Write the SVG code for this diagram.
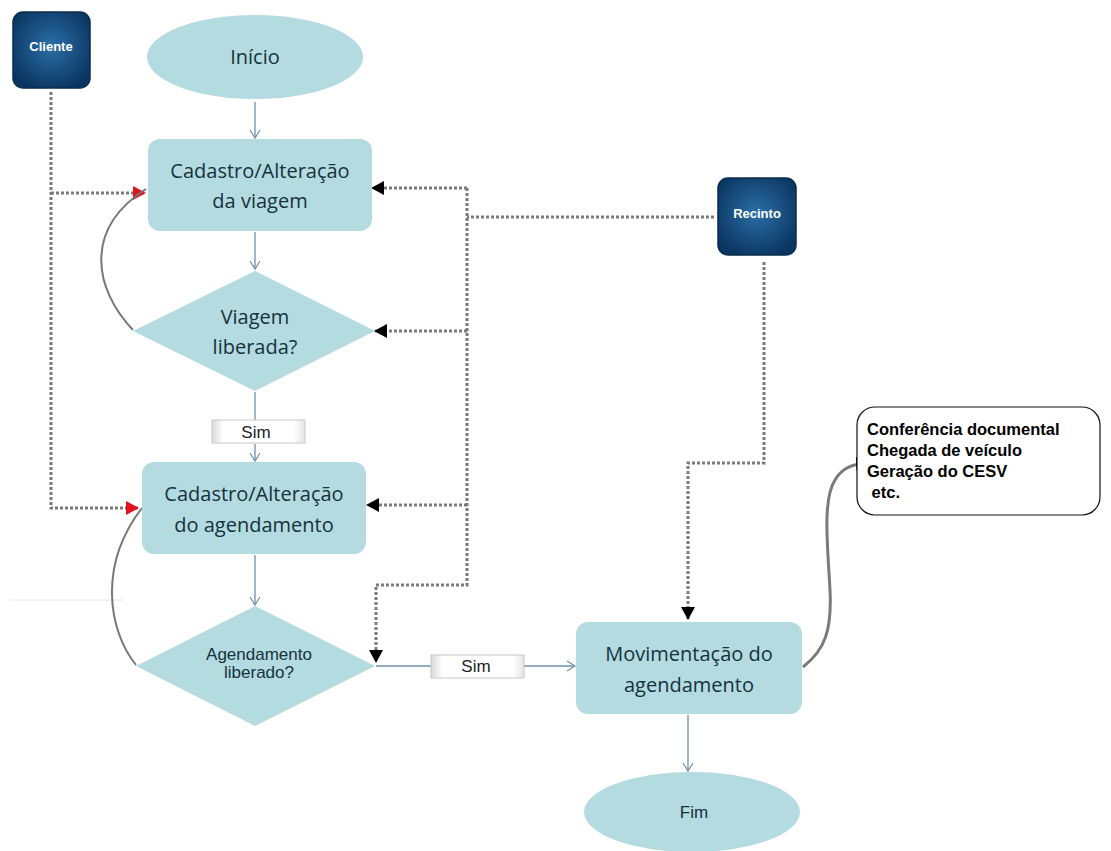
<svg xmlns="http://www.w3.org/2000/svg" width="1111" height="851" viewBox="0 0 1111 851">
<style>
.shape{fill:#b3dbe0}
.lbl{font-family:"Open Sans","DejaVu Sans",sans-serif;font-size:20px;fill:#16323d;text-anchor:middle}
.lbla{font-family:"Liberation Sans",Arial,sans-serif;font-size:17px;fill:#16323d;text-anchor:middle}
.actor{fill:url(#actg);stroke:#0a2d4f;stroke-width:1.5}
.atxt{font-family:"Liberation Sans",Arial,sans-serif;font-size:13px;font-weight:bold;fill:#ffffff;text-anchor:middle}
.flow{fill:none;stroke:#6f8fae;stroke-width:1.3}
.dot{fill:none;stroke:#7a7a7a;stroke-width:3;stroke-dasharray:3 2}
.loop{fill:none;stroke:#777;stroke-width:2}
.simbox{fill:url(#simg);stroke:#c8c8c8;stroke-width:1}
.simtxt{font-family:"Liberation Sans",Arial,sans-serif;font-size:17px;fill:#222;text-anchor:middle}
.note{font-family:"Liberation Sans",Arial,sans-serif;font-size:16.5px;font-weight:bold;fill:#000}
</style>
<defs>
<radialGradient id="actg" cx="50%" cy="45%" r="60%">
<stop offset="0" stop-color="#2a6fa6"/>
<stop offset="1" stop-color="#0b3561"/>
</radialGradient>
<linearGradient id="simg" x1="0" y1="0" x2="1" y2="0">
<stop offset="0" stop-color="#d9d9d9"/>
<stop offset="0.12" stop-color="#ffffff"/>
<stop offset="0.88" stop-color="#ffffff"/>
<stop offset="1" stop-color="#e4e4e4"/>
</linearGradient>
<marker id="open" markerWidth="12" markerHeight="12" refX="10" refY="6" orient="auto" markerUnits="userSpaceOnUse">
<path d="M2,1 L10,6 L2,11" fill="none" stroke="#6f8fae" stroke-width="1.2"/>
</marker>
<marker id="blk" markerWidth="14" markerHeight="14" refX="12" refY="7" orient="auto" markerUnits="userSpaceOnUse">
<path d="M0,0 L13,7 L0,14 Z" fill="#000"/>
</marker>
<marker id="red" markerWidth="14" markerHeight="14" refX="12" refY="7" orient="auto" markerUnits="userSpaceOnUse">
<path d="M0,0 L13,7 L0,14 Z" fill="#e0141e"/>
</marker>
</defs>
<rect width="1111" height="851" fill="#fff"/>
<line x1="10" y1="600" x2="124" y2="600" stroke="#e6e6e6" stroke-width="1"/>

<g id="connectors">
<line class="flow" x1="255" y1="102" x2="255" y2="138" marker-end="url(#open)"/>
<line class="flow" x1="255" y1="232" x2="255" y2="269" marker-end="url(#open)"/>
<line class="flow" x1="255" y1="392" x2="255" y2="420"/>
<line class="flow" x1="255" y1="444" x2="255" y2="461" marker-end="url(#open)"/>
<line class="flow" x1="255" y1="555" x2="255" y2="605" marker-end="url(#open)"/>
<line class="flow" x1="376" y1="666" x2="431" y2="666"/>
<line class="flow" x1="524" y1="666" x2="575" y2="666" marker-end="url(#open)"/>
<line class="flow" x1="688" y1="715" x2="688" y2="771" marker-end="url(#open)"/>
<path class="dot" d="M51,92 V508 H138" marker-end="url(#red)"/>
<path class="dot" d="M51,193 H145" marker-end="url(#red)"/>
<path class="dot" d="M714,217 H467"/>
<path class="dot" d="M467,188 V585 H376 V662" marker-end="url(#blk)"/>
<path class="dot" d="M467,188 H372" marker-end="url(#blk)"/>
<path class="dot" d="M467,331 H375" marker-end="url(#blk)"/>
<path class="dot" d="M467,505 H367" marker-end="url(#blk)"/>
<path class="dot" d="M764,262 V463 H688 V619" marker-end="url(#blk)"/>
<path class="loop" d="M133,330 C95,290 82,230 146,189"/>
<path class="loop" d="M136,665 C108,630 98,565 142,508"/>
<path d="M803,667 C825,650 832,630 830,590 C828,550 822,500 835,480 C842,468 852,464 868,463" fill="none" stroke="#7a7a7a" stroke-width="3" marker-end="url(#blk)"/>
</g>

<g id="cliente">
<rect class="actor" x="13" y="12" width="77" height="76" rx="10"/>
<text class="atxt" x="51" y="51">Cliente</text>
</g>
<g id="recinto">
<rect class="actor" x="718" y="178" width="78" height="77" rx="10"/>
<text class="atxt" x="757" y="218">Recinto</text>
</g>
<g id="inicio">
<ellipse class="shape" cx="255" cy="57" rx="108" ry="42"/>
<text class="lbl" x="255" y="64">Início</text>
</g>
<g id="cad-viagem">
<rect class="shape" x="148" y="139" width="224" height="92" rx="12"/>
<text class="lbl" x="260" y="178">Cadastro/Alteração</text>
<text class="lbl" x="260" y="208">da viagem</text>
</g>
<g id="viagem-liberada">
<polygon class="shape" points="255,271 375,331 255,391 133,331"/>
<text class="lbl" x="255" y="324">Viagem</text>
<text class="lbl" x="255" y="354">liberada?</text>
</g>
<g id="sim1">
<rect class="simbox" x="212" y="420" width="93" height="23"/>
<text class="simtxt" x="256" y="438">Sim</text>
</g>
<g id="cad-agendamento">
<rect class="shape" x="142" y="462" width="224" height="92" rx="12"/>
<text class="lbl" x="254" y="501">Cadastro/Alteração</text>
<text class="lbl" x="254" y="532">do agendamento</text>
</g>
<g id="agendamento-liberado">
<polygon class="shape" points="255,606 375,666 255,726 136,666"/>
<text class="lbla" x="259" y="660">Agendamento</text>
<text class="lbla" x="259" y="678">liberado?</text>
</g>
<g id="sim2">
<rect class="simbox" x="431" y="655" width="93" height="23"/>
<text class="simtxt" x="476" y="672">Sim</text>
</g>
<g id="movimentacao">
<rect class="shape" x="576" y="622" width="226" height="92" rx="12"/>
<text class="lbl" x="689" y="661">Movimentação do</text>
<text class="lbl" x="689" y="692">agendamento</text>
</g>
<g id="fim">
<ellipse class="shape" cx="692" cy="812" rx="108" ry="40"/>
<text class="lbla" x="694" y="818">Fim</text>
</g>
<g id="nota">
<rect x="857" y="407" width="243" height="108" rx="18" fill="#fff" stroke="#111" stroke-width="1.2"/>
<text class="note" x="867" y="435">Conferência documental</text>
<text class="note" x="867" y="456">Chegada de veículo</text>
<text class="note" x="867" y="477">Geração do CESV</text>
<text class="note" x="867" y="498" xml:space="preserve"> etc.</text>
</g>
</svg>
